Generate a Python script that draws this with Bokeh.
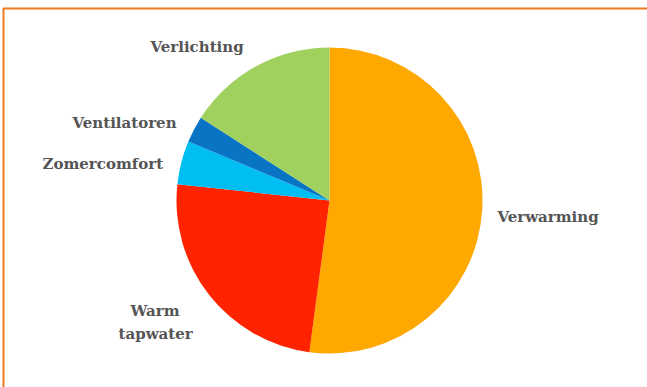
import numpy as np
from bokeh.plotting import figure
from bokeh.models import ColumnDataSource, Range1d
from bokeh.core.properties import value
from bokeh.embed import file_html
from bokeh.resources import INLINE

# Energy use shares (%), clockwise from the top
categories = ["Verwarming", "Warm tapwater", "Zomercomfort", "Ventilatoren", "Verlichting"]
shares = [52.1, 24.6, 4.6, 2.8, 15.9]
colors = ["#FFA800", "#FF2300", "#00BDF2", "#0A74C4", "#A0D15E"]

W, H = 647, 387
CX, CY, R = 329, H - 200, 153

frac = np.array(shares) / sum(shares)
ends = np.cumsum(frac)
starts = ends - frac
src = ColumnDataSource(dict(
    cat=categories,
    color=colors,
    start=np.pi / 2 - 2 * np.pi * starts,
    end=np.pi / 2 - 2 * np.pi * ends,
))

p = figure(width=W, height=H, output_backend="svg", toolbar_location=None,
           x_range=Range1d(0, W), y_range=Range1d(0, H),
           min_border=0, outline_line_color=None)
p.axis.visible = False
p.grid.visible = False
p.background_fill_color = "white"

p.wedge(x=CX, y=CY, radius=R, start_angle="start", end_angle="end",
        direction="clock", fill_color="color", line_color=None, source=src)

# orange frame (only top and left edges fall inside the page)
p.quad(left=3, right=W + 20, top=H - 8, bottom=-20,
       fill_color=None, line_color="#EE7A1E", line_width=2)

# label placement (left x, centre y measured from the top)
label_pos = {
    "Verwarming": [(497, 216)],
    "Warm tapwater": [(130, 310, "Warm"), (118, 333, "tapwater")],
    "Zomercomfort": [(42, 163)],
    "Ventilatoren": [(72, 122)],
    "Verlichting": [(150, 46)],
}
lx, ly, lt = [], [], []
for cat in categories:
    for item in label_pos[cat]:
        lx.append(item[0])
        ly.append(H - item[1])
        lt.append(item[2] if len(item) > 2 else cat)

p.text(x=lx, y=ly, text=lt, text_font=value("DejaVu Serif"),
       text_font_style="bold", text_font_size="15px", text_color="#555555",
       text_align="left", text_baseline="middle")

open("out.html", "w").write(file_html(p, INLINE))
